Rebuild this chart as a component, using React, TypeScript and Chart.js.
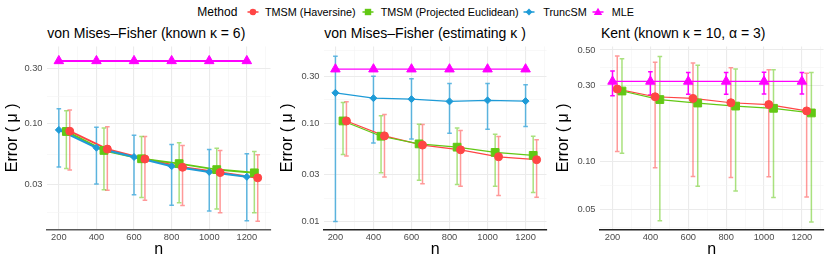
import React, { useEffect, useRef } from 'react';
import { Chart, registerables } from 'chart.js';

Chart.register(...registerables);

const FONT = '"Liberation Sans", Arial, Helvetica, sans-serif';

// ---------- data ----------
const nValues = [200, 400, 600, 800, 1000, 1200];
const xBreaks = [200, 400, 600, 800, 1000, 1200];
const xMinorBreaks = [300, 500, 700, 900, 1100, 1300];

const methods = ['TMSM (Haversine)', 'TMSM (Projected Euclidean)', 'TruncSM', 'MLE'];

// Panel 1: von Mises-Fisher (known kappa = 6)
const hav1 = [0.0865, 0.0606, 0.0498, 0.0422, 0.038, 0.0342];
const hav1Lo = [0.04, 0.0267, 0.0219, 0.0197, 0.0171, 0.0144];
const hav1Hi = [0.132, 0.0943, 0.0779, 0.0652, 0.059, 0.0542];
const pe1 = [0.086, 0.059, 0.05, 0.0454, 0.0403, 0.0378];
const pe1Lo = [0.0411, 0.027, 0.0231, 0.0209, 0.0184, 0.0171];
const pe1Hi = [0.13, 0.0924, 0.0779, 0.0687, 0.0615, 0.0579];
const tr1 = [0.0888, 0.0623, 0.0518, 0.0431, 0.0385, 0.0349];
const tr1Lo = [0.0425, 0.0302, 0.0245, 0.0198, 0.0177, 0.0146];
const tr1Hi = [0.135, 0.0936, 0.08, 0.0665, 0.0602, 0.0553];
const mle1 = [0.35, 0.35, 0.35, 0.35, 0.35, 0.35];

// Panel 2: von Mises-Fisher (estimating kappa)
const hav2 = [0.1056, 0.0744, 0.06, 0.0537, 0.0456, 0.0426];
const hav2Lo = [0.0464, 0.0284, 0.0243, 0.0229, 0.0184, 0.0177];
const hav2Hi = [0.166, 0.1225, 0.097, 0.0843, 0.0733, 0.0678];
const pe2 = [0.1056, 0.0738, 0.0617, 0.0571, 0.0505, 0.0471];
const pe2Lo = [0.0482, 0.0314, 0.0263, 0.0238, 0.0229, 0.0197];
const pe2Hi = [0.163, 0.119, 0.0977, 0.0897, 0.0774, 0.0738];
const tr2 = [0.204, 0.18, 0.176, 0.167, 0.171, 0.168];
const tr2Lo = [0.01, 0.0628, 0.069, 0.0792, 0.087, 0.0925];
const tr2Hi = [0.48, 0.3, 0.283, 0.254, 0.254, 0.246];
const mle2 = [0.355, 0.355, 0.355, 0.355, 0.355, 0.355];

// Panel 3: Kent (known kappa = 10, alpha = 3)
const hav3 = [0.285, 0.255, 0.249, 0.234, 0.228, 0.208];
const hav3Lo = [0.116, 0.0918, 0.081, 0.0798, 0.0807, 0.0603];
const hav3Hi = [0.459, 0.419, 0.415, 0.388, 0.376, 0.358];
const pe3 = [0.277, 0.245, 0.233, 0.223, 0.216, 0.202];
const pe3Lo = [0.113, 0.0428, 0.0702, 0.0656, 0.0597, 0.042];
const pe3Hi = [0.441, 0.455, 0.402, 0.381, 0.376, 0.362];
const mle3 = [0.318, 0.318, 0.318, 0.318, 0.318, 0.318];
const mle3Lo = [0.259, 0.262, 0.264, 0.264, 0.265, 0.265];
const mle3Hi = [0.37, 0.365, 0.362, 0.362, 0.363, 0.362];

// y-axis breaks
const y1Major = [0.03, 0.1, 0.3];
const y1Labels = ['0.03', '0.10', '0.30'];
const y1Minor = [0.01732, 0.05477, 0.1732];
const y2Major = [0.01, 0.03, 0.1, 0.3];
const y2Labels = ['0.01', '0.03', '0.10', '0.30'];
const y2Minor = [0.01732, 0.05477, 0.1732, 0.5477];
const y3Major = [0.05, 0.1, 0.3, 0.5];
const y3Labels = ['0.05', '0.10', '0.30', '0.50'];
const y3Minor = [0.0387, 0.0707, 0.1732, 0.3873];

const titles = [
  'von Mises\u2013Fisher (known \u03ba = 6)',
  'von Mises\u2013Fisher (estimating \u03ba )',
  'Kent (known \u03ba = 10, \u03b1 = 3)',
];

// ---------- styles ----------
const RED = '#FF4545';
const GREEN = '#62C814';
const BLUE = '#1E9BD7';
const MAGENTA = '#FF00FF';
const RED_E = 'rgba(255,69,69,0.55)';
const GREEN_E = 'rgba(98,200,20,0.55)';
const BLUE_E = 'rgba(30,155,215,0.7)';

interface SeriesDef {
  color: string;
  errColor: string;
  y: number[];
  lo: number[] | null;
  hi: number[] | null;
  dodge: number;
  shape: string;
  radius: number;
}

interface PanelDef {
  series: SeriesDef[];
  xMin: number;
  xMax: number;
  yMin: number;
  yMax: number;
  yMajor: number[];
  yLabels: string[];
  yMinor: number[];
  lineWidth: number;
  axisColor: string;
  yTitlePad: number;
  rightPad: number;
  width: number;
  left: number;
}

const panels: PanelDef[] = [
  {
    series: [
      { color: RED, errColor: RED_E, y: hav1, lo: hav1Lo, hi: hav1Hi, dodge: 58, shape: 'circle', radius: 4 },
      { color: GREEN, errColor: GREEN_E, y: pe1, lo: pe1Lo, hi: pe1Hi, dodge: 40, shape: 'rect', radius: 5.5 },
      { color: BLUE, errColor: BLUE_E, y: tr1, lo: tr1Lo, hi: tr1Hi, dodge: 0, shape: 'rectRot', radius: 3.5 },
      { color: MAGENTA, errColor: MAGENTA, y: mle1, lo: null, hi: null, dodge: 0, shape: 'triangle', radius: 5.5 },
    ],
    xMin: 137, xMax: 1326, yMin: 0.0123, yMax: 0.466,
    yMajor: y1Major, yLabels: y1Labels, yMinor: y1Minor,
    lineWidth: 2, axisColor: '#5a5a5a', yTitlePad: 3.4, rightPad: 4, width: 277, left: 0,
  },
  {
    series: [
      { color: RED, errColor: RED_E, y: hav2, lo: hav2Lo, hi: hav2Hi, dodge: 58, shape: 'circle', radius: 4 },
      { color: GREEN, errColor: GREEN_E, y: pe2, lo: pe2Lo, hi: pe2Hi, dodge: 40, shape: 'rect', radius: 5.5 },
      { color: BLUE, errColor: BLUE_E, y: tr2, lo: tr2Lo, hi: tr2Hi, dodge: 0, shape: 'rectRot', radius: 3.5 },
      { color: MAGENTA, errColor: MAGENTA, y: mle2, lo: null, hi: null, dodge: 0, shape: 'triangle', radius: 5.5 },
    ],
    xMin: 140, xMax: 1310, yMin: 0.00834, yMax: 0.604,
    yMajor: y2Major, yLabels: y2Labels, yMinor: y2Minor,
    lineWidth: 1.2, axisColor: '#222222', yTitlePad: 1.4, rightPad: 5.3, width: 276, left: 277,
  },
  {
    series: [
      { color: RED, errColor: RED_E, y: hav3, lo: hav3Lo, hi: hav3Hi, dodge: 25, shape: 'circle', radius: 4 },
      { color: GREEN, errColor: GREEN_E, y: pe3, lo: pe3Lo, hi: pe3Hi, dodge: 50, shape: 'rect', radius: 5.5 },
      { color: MAGENTA, errColor: MAGENTA, y: mle3, lo: mle3Lo, hi: mle3Hi, dodge: 0, shape: 'triangle', radius: 5.5 },
    ],
    xMin: 134, xMax: 1314, yMin: 0.0378, yMax: 0.526,
    yMajor: y3Major, yLabels: y3Labels, yMinor: y3Minor,
    lineWidth: 1.2, axisColor: '#222222', yTitlePad: 1.4, rightPad: 4, width: 277, left: 553,
  },
];

const GRID_MAJOR = '#EBEBEB';
const GRID_MINOR = '#F3F3F3';
const CANVAS_TOP = 40;
const CANVAS_H = 221;

function near(a: number, list: number[]) {
  return list.some((v) => Math.abs(v - a) / v < 1e-6);
}

function Panel({ p }: { p: PanelDef }) {
  const ref = useRef<HTMLCanvasElement | null>(null);
  useEffect(() => {
    if (!ref.current) return;
    const series = p.series;
    const lineSets = series.map((s, i) => ({
      type: 'line' as const,
      data: nValues.map((n, k) => ({ x: n + s.dodge, y: s.y[k] })),
      borderColor: s.color,
      backgroundColor: s.color,
      borderWidth: p.lineWidth,
      pointRadius: 0,
      pointHoverRadius: 0,
      fill: false,
      tension: 0,
      order: 10 + (series.length - i),
    }));
    const pointSets = series.map((s, i) => ({
      type: 'line' as const,
      data: nValues.map((n, k) => ({ x: n + s.dodge, y: s.y[k] })),
      showLine: false,
      borderColor: s.color,
      backgroundColor: s.color,
      pointStyle: s.shape,
      pointRadius: s.radius,
      pointHoverRadius: s.radius,
      pointBorderWidth: 1,
      pointBorderColor: s.color,
      pointBackgroundColor: s.color,
      order: i,
    }));
    const errPlugin = {
      id: 'errbars',
      beforeDatasetsDraw(chart: any) {
        const { ctx } = chart;
        const xs = chart.scales.x;
        const ys = chart.scales.y;
        const cap = 2.3;
        ctx.save();
        series.forEach((s) => {
          if (!s.lo || !s.hi) return;
          ctx.strokeStyle = s.errColor;
          ctx.lineWidth = 1.5;
          nValues.forEach((n, k) => {
            const px = xs.getPixelForValue(n + s.dodge);
            const pLo = ys.getPixelForValue(s.lo![k]);
            const pHi = ys.getPixelForValue(s.hi![k]);
            ctx.beginPath();
            ctx.moveTo(px, pLo);
            ctx.lineTo(px, pHi);
            ctx.moveTo(px - cap, pLo);
            ctx.lineTo(px + cap, pLo);
            ctx.moveTo(px - cap, pHi);
            ctx.lineTo(px + cap, pHi);
            ctx.stroke();
          });
        });
        ctx.restore();
      },
    };
    const allX = [...xBreaks, ...xMinorBreaks].sort((a, b) => a - b);
    const allY = [...p.yMinor, ...p.yMajor].sort((a, b) => a - b);
    const chart = new Chart(ref.current, {
      type: 'line',
      data: { datasets: [...lineSets, ...pointSets] as any },
      plugins: [errPlugin],
      options: {
        animation: false,
        responsive: false,
        devicePixelRatio: 1,
        events: [],
        layout: { padding: { top: 5.5, right: p.rightPad, left: 0, bottom: 0 } },
        plugins: { legend: { display: false }, title: { display: false }, tooltip: { enabled: false } },
        scales: {
          x: {
            type: 'linear',
            min: p.xMin,
            max: p.xMax,
            bounds: 'data',
            afterBuildTicks: (sc: any) => {
              sc.ticks = allX.map((v) => ({ value: v }));
            },
            afterFit: (sc: any) => {
              sc.height = 31.7;
              sc.paddingLeft = 0;
              sc.paddingRight = 0;
            },
            grid: {
              drawTicks: false,
              color: (c: any) => (c.tick && near(c.tick.value, xBreaks) ? GRID_MAJOR : GRID_MINOR),
              lineWidth: (c: any) => (c.tick && near(c.tick.value, xBreaks) ? 1.1 : 0.6),
            },
            border: { display: true, color: p.axisColor, width: 1.5 },
            ticks: {
              autoSkip: false,
              maxRotation: 0,
              padding: 3,
              color: '#4D4D4D',
              font: { family: FONT, size: 9.3 },
              callback: (v: any) => (near(Number(v), xBreaks) ? String(v) : ''),
            },
            title: {
              display: true,
              text: 'n',
              color: '#000000',
              font: { family: FONT, size: 16 },
              padding: { top: 0, bottom: 2 },
            },
          },
          y: {
            type: 'logarithmic',
            min: p.yMin,
            max: p.yMax,
            bounds: 'data',
            afterBuildTicks: (sc: any) => {
              sc.ticks = allY.map((v) => ({ value: v }));
            },
            afterFit: (sc: any) => {
              sc.width = 47;
              sc.paddingTop = 0;
              sc.paddingBottom = 0;
            },
            grid: {
              drawTicks: false,
              color: (c: any) => (c.tick && near(c.tick.value, p.yMajor) ? GRID_MAJOR : GRID_MINOR),
              lineWidth: (c: any) => (c.tick && near(c.tick.value, p.yMajor) ? 1.1 : 0.6),
            },
            border: { display: false },
            ticks: {
              autoSkip: false,
              padding: 4.5,
              color: '#4D4D4D',
              font: { family: FONT, size: 9.3 },
              callback: (v: any) => {
                const idx = p.yMajor.findIndex((m) => Math.abs(m - Number(v)) / m < 1e-6);
                return idx >= 0 ? p.yLabels[idx] : '';
              },
            },
            title: {
              display: true,
              text: 'Error ( \u03bc )',
              color: '#000000',
              font: { family: FONT, size: 16 },
              padding: { top: p.yTitlePad, bottom: 0 },
            },
          },
        },
      } as any,
    });
    return () => chart.destroy();
  }, [p]);
  return (
    <canvas
      ref={ref}
      width={p.width}
      height={CANVAS_H}
      style={{ position: 'absolute', left: p.left, top: CANVAS_TOP, width: p.width, height: CANVAS_H }}
    />
  );
}

function LegendKey({ color, shape, cx }: { color: string; shape: string; cx: number }) {
  let mark: React.ReactNode = null;
  if (shape === 'circle') mark = <circle cx={6} cy={6} r={3.3} fill={color} />;
  else if (shape === 'rect') mark = <rect x={2.8} y={2.8} width={6.4} height={6.4} fill={color} />;
  else if (shape === 'rectRot') mark = <polygon points="6,2.6 9.4,6 6,9.4 2.6,6" fill={color} />;
  else mark = <polygon points="6,1.8 10.2,9 1.8,9" fill={color} />;
  return (
    <svg
      width={12}
      height={12}
      style={{ position: 'absolute', left: cx - 6, top: 11.7 - 6 }}
    >
      <line x1={0.5} y1={6} x2={11.5} y2={6} stroke={color} strokeWidth={1.5} />
      {mark}
    </svg>
  );
}

const legendColors = [RED, GREEN, BLUE, MAGENTA];
const legendShapes = ['circle', 'rect', 'rectRot', 'triangle'];
const legendKeyX = [253.3, 368.3, 529.3, 598.3];
const legendTextX = [265, 380.7, 543.3, 611.7];
const titleX = [47.3, 324.3, 601];

export default function App() {
  useEffect(() => {
    document.body.style.margin = '0';
  }, []);
  return (
    <div
      style={{
        position: 'absolute',
        left: 0,
        top: 0,
        width: 830,
        height: 261,
        background: '#ffffff',
        fontFamily: FONT,
        overflow: 'hidden',
      }}
    >
      <div style={{ position: 'absolute', left: 197.3, top: 4.6, fontSize: 12, lineHeight: 'normal', color: '#000', whiteSpace: 'nowrap' }}>
        Method
      </div>
      {methods.map((m, i) => (
        <React.Fragment key={m}>
          <LegendKey color={legendColors[i]} shape={legendShapes[i]} cx={legendKeyX[i]} />
          <div
            style={{
              position: 'absolute',
              left: legendTextX[i],
              top: 5.6,
              fontSize: 10.8,
              lineHeight: 'normal',
              color: '#000',
              whiteSpace: 'nowrap',
            }}
          >
            {m}
          </div>
        </React.Fragment>
      ))}
      {titles.map((t, i) => (
        <div
          key={t}
          style={{
            position: 'absolute',
            left: titleX[i],
            top: 25.3,
            fontSize: 14,
            lineHeight: 'normal',
            color: '#000',
            whiteSpace: 'nowrap',
          }}
        >
          {t}
        </div>
      ))}
      {panels.map((p, i) => (
        <Panel key={i} p={p} />
      ))}
    </div>
  );
}
